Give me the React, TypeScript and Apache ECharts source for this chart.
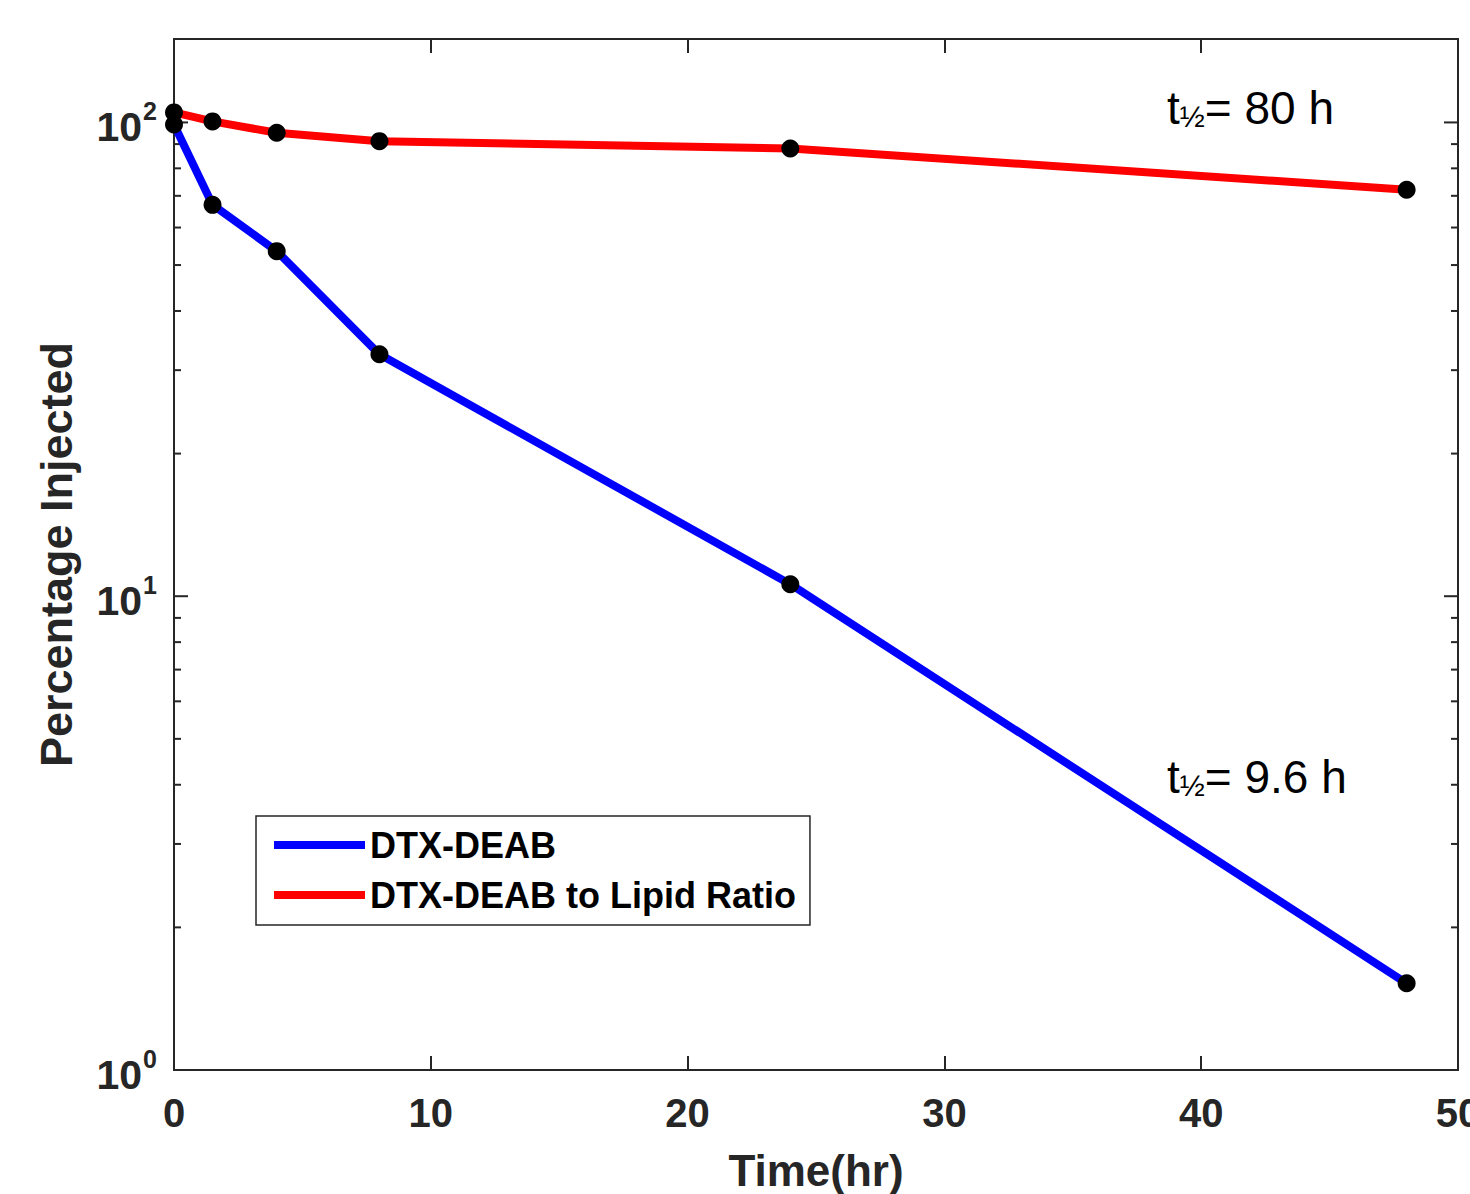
import React, { useEffect, useRef } from "react";
import * as echarts from "echarts";

const timeHr = [0, 1.5, 4, 8, 24, 48];
const dtxDeab = [99, 67.0, 53.5, 32.4, 10.6, 1.524];
const dtxDeabLipid = [105, 100.5, 95.1, 91.3, 88.1, 72.1];
const seriesNames = ["DTX-DEAB", "DTX-DEAB to Lipid Ratio"];
const seriesColors = ["#0000ff", "#ff0000"];
const xTicks = { min: 0, max: 50, interval: 10 };
const yRange = { min: 1, max: 150 };
const yMajorTicks = [1, 10, 100];
const yMinorTicks = [2, 3, 4, 5, 6, 7, 8, 9, 20, 30, 40, 50, 60, 70, 80, 90];
const annotations = ["80 h", "9.6 h"];

export default function App() {
  const ref = useRef<HTMLDivElement>(null);
  useEffect(() => {
    document.body.style.margin = "0";
    const chart = echarts.init(ref.current!, null, { renderer: "svg" });
    const axisColor = "#262626";
    const font = "Liberation Sans, Arial, Helvetica, sans-serif";
    const tickData = [
      ...yMajorTicks.map((v) => [xTicks.min, v, 14]),
      ...yMinorTicks.map((v) => [xTicks.min, v, 7]),
    ];
    const annText = (val: string, left: number, top: number) => ({
      type: "text",
      left,
      top,
      style: {
        text: `{a|t}{s|½}{a|= ${val}}`,
        rich: {
          a: { fontSize: 46, fontFamily: font, fill: "#000", lineHeight: 50, verticalAlign: "bottom" },
          s: { fontSize: 30, fontFamily: font, fill: "#000", lineHeight: 24, verticalAlign: "bottom" },
        },
      },
    });
    chart.setOption({
      animation: false,
      backgroundColor: "#fff",
      grid: {
        left: 174,
        top: 39,
        width: 1284,
        height: 1031,
        show: true,
        borderColor: axisColor,
        borderWidth: 2,
        backgroundColor: "transparent",
        containLabel: false,
        outerBoundsMode: "none",
      },
      xAxis: [
        {
          type: "value",
          min: xTicks.min,
          max: xTicks.max,
          interval: xTicks.interval,
          name: "Time(hr)",
          nameLocation: "middle",
          nameGap: 78,
          nameTextStyle: { fontSize: 44, fontWeight: "bold", color: axisColor, fontFamily: font },
          axisLine: { show: false },
          axisTick: { show: true, inside: true, length: 14, lineStyle: { color: axisColor, width: 2 } },
          axisLabel: { fontSize: 40, fontWeight: "bold", color: axisColor, fontFamily: font, margin: 23 },
          splitLine: { show: false },
        },
        {
          type: "value",
          position: "top",
          min: xTicks.min,
          max: xTicks.max,
          interval: xTicks.interval,
          axisLine: { show: false },
          axisTick: { show: true, inside: true, length: 14, lineStyle: { color: axisColor, width: 2 } },
          axisLabel: { show: false },
          splitLine: { show: false },
        },
      ],
      yAxis: {
        type: "log",
        logBase: 10,
        min: yRange.min,
        max: yRange.max,
        name: "Percentage Injected",
        nameLocation: "middle",
        nameGap: 95,
        nameRotate: 90,
        nameTextStyle: { fontSize: 45, fontWeight: "bold", color: axisColor, fontFamily: font },
        axisLine: { show: false },
        axisTick: { show: false },
        splitLine: { show: false },
        axisLabel: {
          showMaxLabel: false,
          margin: 17,
          padding: [16, 0, 0, 0],
          formatter: (v: number) => `{b|10}{s|${Math.round(Math.log10(v))}}`,
          rich: {
            b: { fontSize: 41, fontWeight: "bold", color: axisColor, fontFamily: font, lineHeight: 41, verticalAlign: "bottom", padding: [15.5, 0, 3.5, 0] },
            s: { fontSize: 25, fontWeight: "bold", color: axisColor, fontFamily: font, lineHeight: 25, verticalAlign: "bottom", padding: [7.5, 0, 27.5, 1] },
          },
        },
      },
      legend: {
        orient: "vertical",
        left: 256,
        top: 816,
        data: seriesNames.map((n, i) => ({ name: n, itemStyle: { color: seriesColors[i] } })),
        backgroundColor: "#fff",
        borderColor: axisColor,
        borderWidth: 1.5,
        borderRadius: 0,
        padding: [9, 14, 10, 18],
        itemGap: 10,
        itemWidth: 91,
        itemHeight: 8,
        icon: "rect",
        textStyle: { fontSize: 36, fontWeight: "bold", color: "#000", fontFamily: font, lineHeight: 40 },
      },
      graphic: [annText(annotations[0], 1167, 85), annText(annotations[1], 1167, 754)],
      series: [
        {
          type: "custom",
          silent: true,
          z: 1,
          clip: false,
          data: tickData,
          renderItem: (params: any, api: any) => {
            const v = api.value(1);
            const len = api.value(2);
            const l = api.coord([xTicks.min, v]);
            const r = api.coord([xTicks.max, v]);
            const style = { stroke: axisColor, lineWidth: 2 };
            return {
              type: "group",
              children: [
                { type: "line", shape: { x1: l[0], y1: l[1], x2: l[0] + len, y2: l[1] }, style },
                { type: "line", shape: { x1: r[0], y1: r[1], x2: r[0] - len, y2: r[1] }, style },
              ],
            };
          },
        },
        {
          name: seriesNames[0],
          type: "line",
          z: 3,
          data: timeHr.map((t, i) => [t, dtxDeab[i]]),
          lineStyle: { color: seriesColors[0], width: 8 },
          itemStyle: { color: "#000" },
          symbol: "circle",
          symbolSize: 18,
        },
        {
          name: seriesNames[1],
          type: "line",
          z: 3,
          data: timeHr.map((t, i) => [t, dtxDeabLipid[i]]),
          lineStyle: { color: seriesColors[1], width: 8 },
          itemStyle: { color: "#000" },
          symbol: "circle",
          symbolSize: 18,
        },
      ],
    });
    return () => chart.dispose();
  }, []);
  return <div ref={ref} style={{ width: 1470, height: 1194 }} />;
}
